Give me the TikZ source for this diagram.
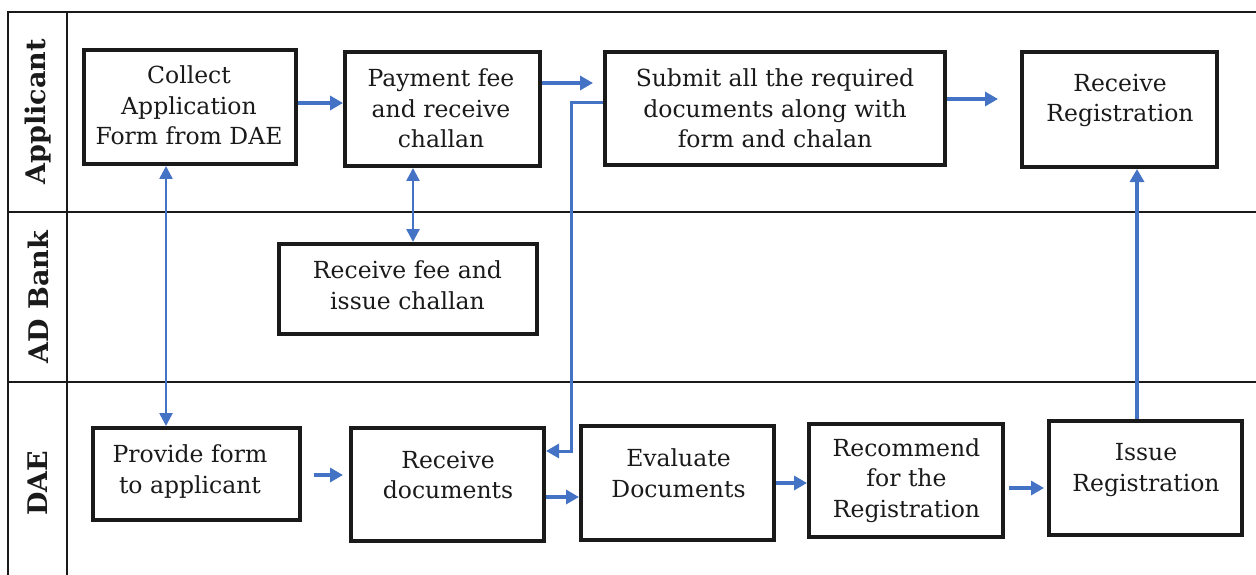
\documentclass[tikz,border=0pt]{standalone}
\usepackage{fontspec}
\setmainfont{DejaVu Serif}
\usetikzlibrary{arrows.meta}
\definecolor{arrowblue}{HTML}{4472C4}
\definecolor{ink}{HTML}{1A1A1A}
\begin{document}
\begin{tikzpicture}[x=1pt,y=-1pt,
  frame/.style={draw=ink,line width=2pt},
  box/.style={draw=ink,line width=3.6pt,rectangle,inner sep=0pt},
  txt/.style={align=center,text=ink,inner sep=0pt,font=\fontsize{23.5}{30.5}\selectfont},
  lanelabel/.style={rotate=90,text=ink,inner sep=0pt,font=\fontsize{27}{30}\selectfont\bfseries},
  arr/.style={draw=arrowblue,line width=3.4pt,-{Triangle[length=13pt,width=14pt]}},
  arrthin/.style={draw=arrowblue,line width=3pt,-{Triangle[length=13pt,width=14pt]}},
  darr/.style={draw=arrowblue,line width=2.6pt,{Triangle[length=13pt,width=13pt]}-{Triangle[length=13pt,width=13pt]}}
]
\useasboundingbox (0,0) rectangle (1256,575);
% swimlane frame
\draw[frame] (8,575) -- (8,12) -- (1256,12);
\draw[frame] (67,12) -- (67,575);
\draw[frame] (8,212) -- (1256,212);
\draw[frame] (8,382) -- (1256,382);
\node[lanelabel] (lapp) at (38,112) {Applicant};
\node[lanelabel] (lbank) at (38,297) {AD Bank};
\node[lanelabel] (ldae) at (38,483) {DAE};

% boxes
\node[box,minimum width=212.4pt,minimum height=114.4pt] (collect) at (190,107) {};
\node[box,minimum width=195.4pt,minimum height=114.4pt] (pay) at (442.5,109) {};
\node[box,minimum width=340.4pt,minimum height=113.4pt] (submit) at (775,108.5) {};
\node[box,minimum width=195.4pt,minimum height=115.4pt] (recvreg) at (1119.5,109.5) {};
\node[box,minimum width=258.4pt,minimum height=90.4pt] (fee) at (408,289) {};
\node[box,minimum width=207.4pt,minimum height=92.4pt] (provide) at (196.5,474) {};
\node[box,minimum width=193.4pt,minimum height=113.4pt] (recvdoc) at (447.5,484.5) {};
\node[box,minimum width=193.4pt,minimum height=114.4pt] (eval) at (677.5,483) {};
\node[box,minimum width=194.4pt,minimum height=113.4pt] (recom) at (906,480.5) {};
\node[box,minimum width=193.4pt,minimum height=114.4pt] (issue) at (1145.5,478) {};

% texts
\node[txt] (collectT) at (189,105.5) {Collect\\Application\\Form from DAE};
\node[txt] (payT) at (441,108.5) {Payment fee\\and receive\\challan};
\node[txt] (submitT) at (775,108.5) {Submit all the required\\documents along with\\form and chalan};
\node[txt] (recvregT) at (1120,100.5) {Receive\\Registration};
\node[txt] (feeT) at (407.5,285) {Receive fee and\\issue challan};
\node[txt] (provideT) at (190,471.5) {Provide form\\to applicant};
\node[txt] (recvdocT) at (448,475) {Receive\\documents};
\node[txt] (evalT) at (678.5,473) {Evaluate\\Documents};
\node[txt] (recomT) at (906.5,480.5) {Recommend\\for the\\Registration};
\node[txt] (issueT) at (1146,470) {Issue\\Registration};

% helper coordinates for connector levels
\coordinate (x166) at (166,0);
\coordinate (x413) at (413,0);
\coordinate (x1137) at (1137,0);
\coordinate (j1) at (571,451);
\coordinate (y83) at (0,83);
\coordinate (y99) at (0,99);
\coordinate (y103) at (0,103);
\coordinate (y475) at (0,475);
\coordinate (y497) at (0,497);
\coordinate (y483) at (0,483);
\coordinate (y488) at (0,488);

% connectors
\draw[darr] (collect.south -| x166) -- (provide.north -| x166);
\draw[darr] (pay.south -| x413) -- (fee.north -| x413);
\draw[arr] (collect.east |- y103) -- (pay.west |- y103);
\draw[arr,shorten >=10pt] (pay.east |- y83) -- (submit.west |- y83);
\draw[arr,shorten >=22pt] (submit.east |- y99) -- (recvreg.west |- y99);
\draw[arrthin] (submit.west |- y103) -| (j1) -- (recvdoc.east |- j1);
\draw[arr] (issue.north -| x1137) -- (recvreg.south -| x1137);
\draw[arr,shorten <=12pt,shorten >=6pt] (provide.east |- y475) -- (recvdoc.west |- y475);
\draw[arr] (recvdoc.east |- y497) -- (eval.west |- y497);
\draw[arr] (eval.east |- y483) -- (recom.west |- y483);
\draw[arr,shorten <=4pt,shorten >=3pt] (recom.east |- y488) -- (issue.west |- y488);
\end{tikzpicture}
\end{document}
